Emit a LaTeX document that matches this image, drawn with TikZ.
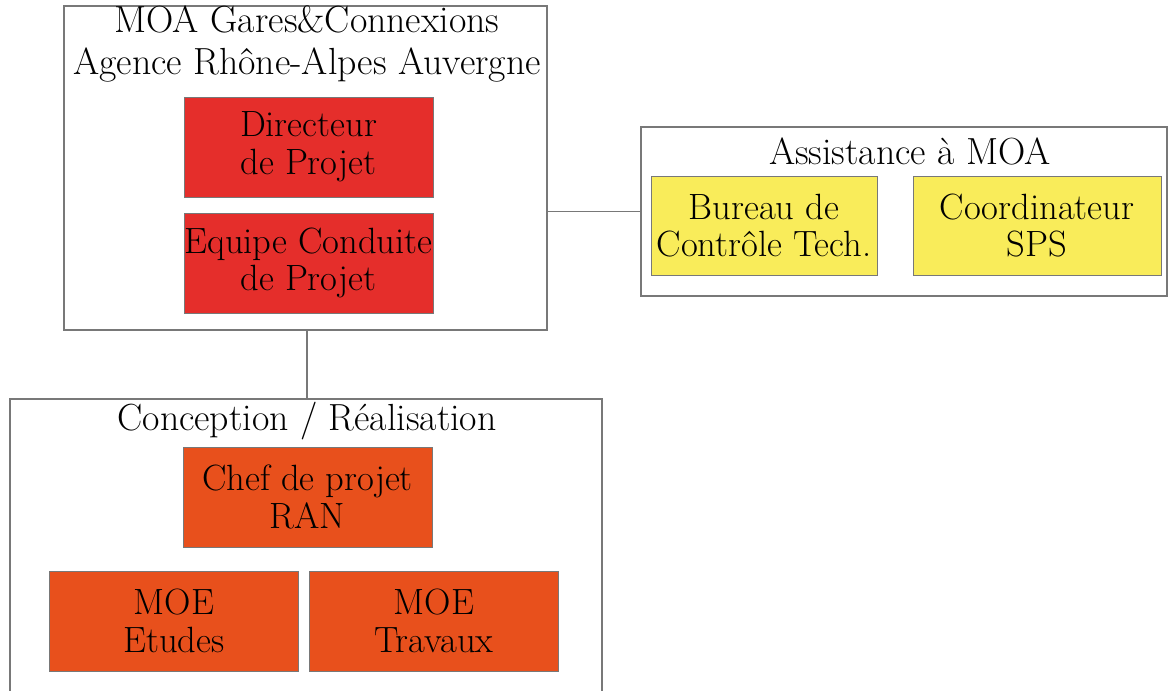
\documentclass[tikz,border=0pt]{standalone}
\usepackage{tikz}
\usepackage{xcolor}

\definecolor{moared}{RGB}{229,46,43}
\definecolor{amoayellow}{RGB}{249,236,90}
\definecolor{crorange}{RGB}{232,80,28}
\definecolor{framegray}{RGB}{120,120,120}

\begin{document}
\begin{tikzpicture}[x=0.2mm, y=-0.2mm,
  frame/.style={draw=framegray, line width=0.6pt, fill=white, inner sep=0pt},
  title/.style={align=center, inner sep=0pt, font=\fontsize{21.5}{24}\selectfont},
  unit/.style={draw=framegray, line width=0.5pt, align=center, inner sep=0pt,
               minimum width=49.8mm, minimum height=20mm, font=\fontsize{20.8}{21.5}\selectfont},
  link/.style={draw=framegray, line width=0.6pt}]

\useasboundingbox (0,0) rectangle (1168,691);
\clip (0,0) rectangle (1168,691);

% MOA Gares&Connexions
\node[frame, minimum width=96.6mm, minimum height=64.8mm] (moa) at (305.5,168) {};
\node[title] (moatitle) at (307,44) {MOA Gares\&Connexions\\Agence Rhône-Alpes Auvergne};
\node[unit, fill=moared] (dir) at (308.5,147) {Directeur\\ de Projet};
\node[unit, fill=moared] (ecp) at (308.5,263) {Equipe Conduite\\ de Projet};

% Assistance a MOA
\node[frame, minimum width=105.2mm, minimum height=33.8mm] (amoa) at (904,211.5) {};
\node[title] (amoatitle) at (910,151) {Assistance à MOA};
\node[unit, fill=amoayellow, minimum width=45.2mm, minimum height=19.8mm] (bct) at (764,225.5) {Bureau de\\Contrôle Tech.};
\node[unit, fill=amoayellow, minimum width=49.6mm, minimum height=19.8mm] (sps) at (1037,225.5) {Coordinateur\\SPS};

% Conception / Realisation
\node[frame, minimum width=118.4mm, minimum height=64.4mm] (cr) at (306,560) {};
\node[title] (crtitle) at (307,421) {Conception / Réalisation};
\node[unit, fill=crorange] (chef) at (307.5,497) {Chef de projet\\RAN};
\node[unit, fill=crorange] (etu) at (174,621) {MOE\\Etudes};
\node[unit, fill=crorange] (trav) at (434,621) {MOE\\Travaux};

% liaisons
\draw[link] (amoa.west) -- (amoa.west -| moa.east);
\draw[link] (crtitle |- moa.south) -- (crtitle |- cr.north);

\end{tikzpicture}
\end{document}
